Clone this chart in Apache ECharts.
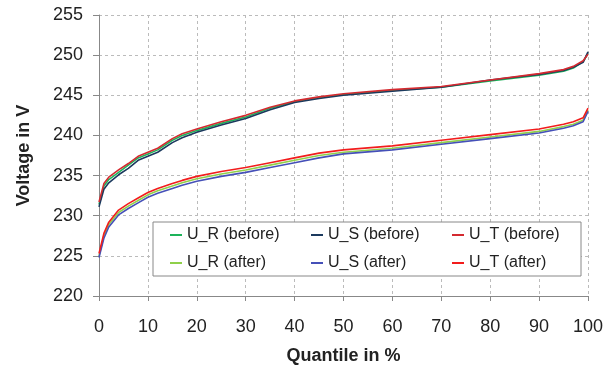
<!DOCTYPE html>
<html>
<head>
<meta charset="utf-8">
<script src="https://cdn.jsdelivr.net/npm/echarts@6/dist/echarts.min.js"></script>
<style>html,body{margin:0;padding:0;background:#fff}#c{width:614px;height:372px}</style>
</head>
<body>
<div id="c"></div>
<script>
var quantiles = [0,1,2,4,6,8,10,12,15,17,20,25,30,35,40,45,50,60,70,80,90,95,97,99,100];
var xTicks = [0,10,20,30,40,50,60,70,80,90,100];
var yTicks = [220,225,230,235,240,245,250,255];

var uR_before = [231.4,233.7,234.5,235.4,236.3,237.2,237.7,238.2,239.4,240.0,240.6,241.5,242.3,243.4,244.2,244.7,245.1,245.6,246.0,246.8,247.5,248.0,248.4,249.2,250.2];
var uS_before = [231.1,233.3,234.1,235.1,235.9,236.9,237.4,237.9,239.1,239.7,240.4,241.3,242.1,243.2,244.1,244.6,245.0,245.5,246.0,246.9,247.6,248.1,248.5,249.1,250.4];
var uT_before = [231.7,234.0,234.8,235.7,236.5,237.4,237.9,238.4,239.6,240.2,240.8,241.7,242.5,243.5,244.3,244.8,245.2,245.7,246.1,246.9,247.7,248.2,248.6,249.3,250.1];
var uR_after = [225.0,227.5,228.9,230.4,231.2,231.9,232.6,233.1,233.7,234.1,234.6,235.2,235.7,236.3,236.9,237.5,237.9,238.4,239.1,239.8,240.5,241.1,241.4,241.9,243.2];
var uS_after = [224.8,227.2,228.6,230.1,230.9,231.6,232.3,232.8,233.4,233.8,234.3,234.9,235.4,236.0,236.6,237.2,237.7,238.2,238.9,239.6,240.3,240.9,241.2,241.7,243.0];
var uT_after = [225.3,227.8,229.2,230.7,231.5,232.2,232.9,233.4,234.0,234.4,234.9,235.5,236.0,236.6,237.2,237.8,238.2,238.7,239.4,240.1,240.8,241.4,241.7,242.2,243.4];

var seriesDefs = [
  {name:'U_R (before)', data:uR_before, color:'#1db35a'},
  {name:'U_S (before)', data:uS_before, color:'#1c3a5e'},
  {name:'U_T (before)', data:uT_before, color:'#d42a30'},
  {name:'U_R (after)', data:uR_after, color:'#8fd04a'},
  {name:'U_S (after)', data:uS_after, color:'#4550b8'},
  {name:'U_T (after)', data:uT_after, color:'#f21c1c'}
];

function pairs(arr){ return quantiles.map(function(q,i){ return [q, arr[i]]; }); }

var chart = echarts.init(document.getElementById('c'), null, {renderer:'canvas'});
var font = 'Liberation Sans, Arial, sans-serif';
chart.setOption({
  animation:false,
  backgroundColor:'#fff',
  grid:{left:99, right:26, top:15, bottom:76, containLabel:false},
  xAxis:{
    type:'value', min:xTicks[0], max:xTicks[xTicks.length-1], interval:10,
    name:'Quantile in %', nameLocation:'middle', nameGap:51,
    nameTextStyle:{fontFamily:font, fontSize:18, fontWeight:'bold', color:'#222'},
    axisLine:{show:true, onZero:false, lineStyle:{color:'#888', width:1}},
    axisTick:{show:true, length:5, lineStyle:{color:'#888'}},
    axisLabel:{fontFamily:font, fontSize:18, color:'#222', margin:22},
    splitLine:{show:true, lineStyle:{color:'#bbb', type:[3,3], width:1}}
  },
  yAxis:{
    type:'value', min:yTicks[0], max:yTicks[yTicks.length-1], interval:5,
    name:'Voltage in V', nameLocation:'middle', nameGap:66,
    nameTextStyle:{fontFamily:font, fontSize:18, fontWeight:'bold', color:'#222'},
    axisLine:{show:true, onZero:false, lineStyle:{color:'#888', width:1}},
    axisTick:{show:true, length:6, lineStyle:{color:'#888'}},
    axisLabel:{fontFamily:font, fontSize:18, color:'#222', margin:16},
    splitLine:{show:true, lineStyle:{color:'#bbb', type:[3,3], width:1}}
  },
  legend:{
    left:153, top:222, width:440, orient:'horizontal',
    padding:[5,0,5,17], itemGap:12, itemWidth:12, itemHeight:2, icon:'rect',
    backgroundColor:'#fff', borderColor:'#888', borderWidth:1,
    formatter:'{a|{name}}',
    textStyle:{fontFamily:font, fontSize:16, color:'#222',
      rich:{a:{fontFamily:font, fontSize:16, color:'#222', width:112, lineHeight:16, height:16, align:'left'}}},
    data: seriesDefs.map(function(s){return s.name;})
  },
  series: seriesDefs.map(function(s){
    return {
      name:s.name, type:'line', data:pairs(s.data), showSymbol:false, symbol:'none',
      lineStyle:{color:s.color, width:1.6}, itemStyle:{color:s.color}, smooth:false
    };
  })
});
</script>
</body>
</html>
